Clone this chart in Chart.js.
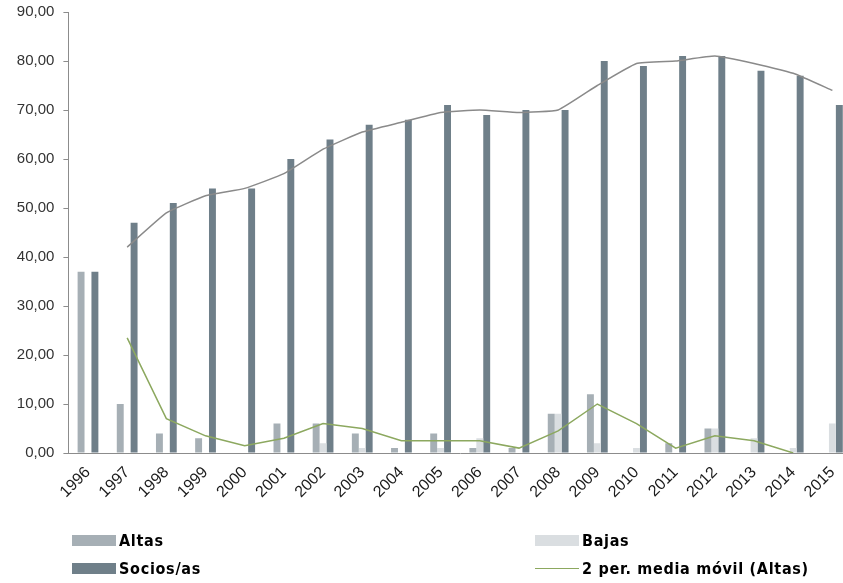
<!DOCTYPE html>
<html>
<head>
<meta charset="utf-8">
<script src="https://cdn.jsdelivr.net/npm/chart.js@4.4.1/dist/chart.umd.min.js"></script>
<style>
  html, body { margin: 0; padding: 0; background: #fff; overflow: hidden; }
  #wrap { position: relative; width: 860px; height: 583px; }
  #leyenda { position: absolute; left: 0; top: 0; width: 843px; height: 583px; pointer-events: none; }
  .item { position: absolute; display: flex; align-items: center; height: 20px;
          font-family: "Liberation Sans Narrow", "DejaVu Sans Condensed", "Liberation Sans", sans-serif;
          font-stretch: condensed; font-weight: bold; font-size: 16px; color: #000; letter-spacing: 0.7px; }
  .item .sw { width: 44px; margin-right: 3px; }
</style>
</head>
<body>
<div id="wrap">
  <canvas id="grafico" width="860" height="583"></canvas>
  <div id="leyenda"></div>
</div>
<script>
// Datos
const anios = ["1996","1997","1998","1999","2000","2001","2002","2003","2004","2005",
               "2006","2007","2008","2009","2010","2011","2012","2013","2014","2015"];
const altas   = [37, 10, 4, 3, 0, 6, 6, 4, 1, 4, 1, 1, 8, 12, 0, 2, 5, 0, 0, 0];
const bajas   = [0, 0, 0, 0, 0, 0, 2, 1, 0, 1, 3, 0, 8, 2, 1, 0, 5, 3, 1, 6];
const socios  = [37, 47, 51, 54, 54, 60, 64, 67, 68, 71, 69, 70, 70, 80, 79, 81, 81, 78, 77, 71];
// línea gris (tendencia de socios/as)
const tendenciaSocios = [null, 42, 49, 52.5, 54, 57, 62, 65.5, 67.5, 69.5, 70, 69.5, 70, 75, 79.5, 80, 81, 79.5, 77.5, 74];
// 2 per. media móvil (Altas)
const mediaAltas = [null, 23.5, 7, 3.5, 1.5, 3, 6, 5, 2.5, 2.5, 2.5, 1, 4.5, 10, 6, 1, 3.5, 2.5, 0, null];
const ticksY = [0, 10, 20, 30, 40, 50, 60, 70, 80, 90];

const colorAltas = '#a6afb5';
const colorBajas = '#dadee1';
const colorSocios = '#6f7f89';
const colorMedia = '#8ca85f';

const ctx = document.getElementById('grafico').getContext('2d');
const grafico = new Chart(ctx, {
  data: {
    labels: anios,
    datasets: [
      { type: 'bar', label: 'Altas', data: altas, backgroundColor: colorAltas, order: 1,
        barPercentage: 1.0, categoryPercentage: 0.53 },
      { type: 'bar', label: 'Bajas', data: bajas, backgroundColor: colorBajas, order: 1,
        barPercentage: 1.0, categoryPercentage: 0.53 },
      { type: 'bar', label: 'Socios/as', data: socios, backgroundColor: colorSocios, order: 1,
        barPercentage: 1.0, categoryPercentage: 0.53 },
      { type: 'line', label: 'tendencia', data: tendenciaSocios, borderColor: '#8a8a8a',
        borderWidth: 1.5, pointRadius: 0, tension: 0.12, order: 0, enLeyenda: false },
      { type: 'line', label: '2 per. media móvil (Altas)', data: mediaAltas, borderColor: colorMedia,
        borderWidth: 1.5, pointRadius: 0, tension: 0, order: 0 }
    ]
  },
  options: {
    responsive: false,
    animation: false,
    layout: { padding: { top: 12, right: 8, left: 0, bottom: 0 } },
    plugins: {
      legend: { display: false },
      tooltip: { enabled: false }
    },
    scales: {
      x: {
        grid: { display: false },
        border: { display: true, color: '#8c8c8c', width: 1 },
        ticks: {
          color: '#1a1a1a',
          font: { family: '"Liberation Sans", Arial, sans-serif', size: 16 },
          maxRotation: 45, minRotation: 45, padding: 2, autoSkip: false
        },
        afterFit: (scale) => { scale.height = 130; }
      },
      y: {
        min: 0, max: 90,
        afterBuildTicks: (scale) => { scale.ticks = ticksY.map(v => ({ value: v })); },
        grid: { drawOnChartArea: false, drawTicks: true, tickLength: 5, color: '#8c8c8c' },
        border: { display: true, color: '#8c8c8c', width: 1 },
        ticks: {
          color: '#333',
          padding: 9,
          font: { family: '"Liberation Sans", Arial, sans-serif', size: 15 },
          callback: (v) => v.toFixed(2).replace('.', ',')
        },
        afterFit: (scale) => {
          scale.width = 68.4;
          scale.paddingTop = 0;
          scale.paddingBottom = 0;
        }
      }
    }
  }
});

// Leyenda en dos columnas construida a partir de los datasets
const posiciones = {
  'Altas': [72, 530],
  'Bajas': [535, 530],
  'Socios/as': [72, 558],
  '2 per. media móvil (Altas)': [535, 558]
};
const leyenda = document.getElementById('leyenda');
grafico.data.datasets.forEach(ds => {
  if (ds.enLeyenda === false) return;
  const pos = posiciones[ds.label];
  const item = document.createElement('div');
  item.className = 'item';
  item.style.left = pos[0] + 'px';
  item.style.top = pos[1] + 'px';
  const sw = document.createElement('span');
  sw.className = 'sw';
  if (ds.type === 'line') {
    sw.style.height = '0px';
    sw.style.borderTop = '1.5px solid ' + ds.borderColor;
  } else {
    sw.style.height = '11px';
    sw.style.background = ds.backgroundColor;
  }
  const txt = document.createElement('span');
  txt.textContent = ds.label;
  item.appendChild(sw);
  item.appendChild(txt);
  leyenda.appendChild(item);
});
</script>
</body>
</html>
